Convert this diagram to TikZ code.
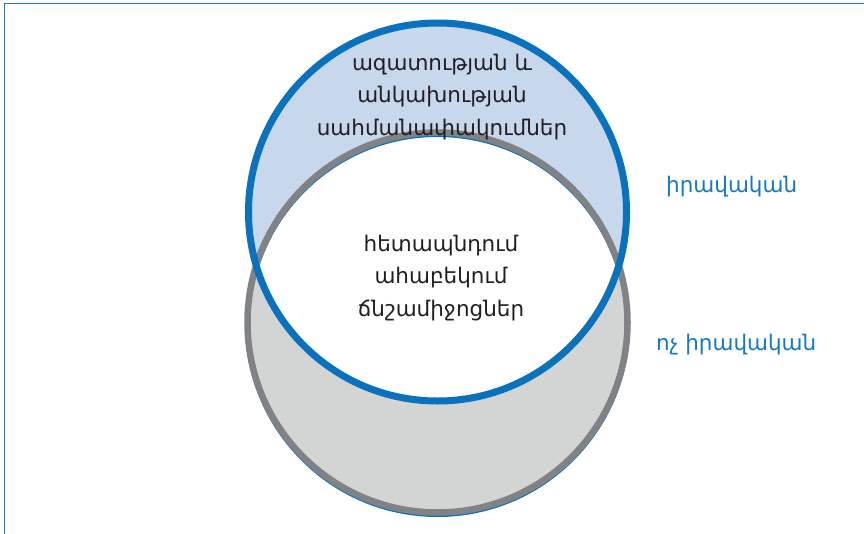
\documentclass[tikz,border=0pt]{standalone}
\usepackage{fontspec}
\setmainfont{DejaVu Sans}
\definecolor{frameblue}{HTML}{1B7CC4}
\definecolor{ringblue}{HTML}{0A72BD}
\definecolor{fillblue}{HTML}{C7D7EC}
\definecolor{ringgray}{HTML}{808285}
\definecolor{fillgray}{HTML}{D3D5D4}
\definecolor{labelblue}{HTML}{1479C0}
\definecolor{textdark}{HTML}{231F20}
\begin{document}
\begin{tikzpicture}[x=1pt,y=-1pt,
  inner/.style={font=\fontsize{21.5}{32.5}\selectfont, text=textdark, align=center, inner sep=0pt},
  side/.style={font=\fontsize{21.5}{26}\selectfont, text=labelblue, inner sep=0pt, anchor=west}]
\useasboundingbox (0,0) rectangle (864,533);
% frame
\draw[frameblue, line width=1.6pt] (4.5,540) -- (4.5,3.5) -- (870,3.5);
% coordinates of circle centres
\coordinate (cb) at (437.5,212);
\coordinate (cg) at (437.5,322.5);
% fills
\fill[fillblue] (cb) circle (189);
\fill[fillgray] (cg) circle (190);
\begin{scope}
  \clip (cb) circle (189);
  \fill[white] (cg) circle (190);
\end{scope}
% thin blue shadow under grey ring
\draw[ringblue, line width=5pt] (437.5,324.5) circle (190);
% rings
\draw[ringgray, line width=6.5pt] (cg) circle (190);
\draw[ringblue, line width=7pt] (cb) circle (189);
% texts
\node[inner] (top) at (442,97) {ազատության և\\անկախության\\սահմանափակումներ};
\node[inner] (mid) at (441,278) {հետապնդում\\ահաբեկում\\ճնշամիջոցներ};
\node[side] (legal) at (666,187) {իրավական};
\node[side] (illegal) at (656,345) {ոչ իրավական};
\end{tikzpicture}
\end{document}
